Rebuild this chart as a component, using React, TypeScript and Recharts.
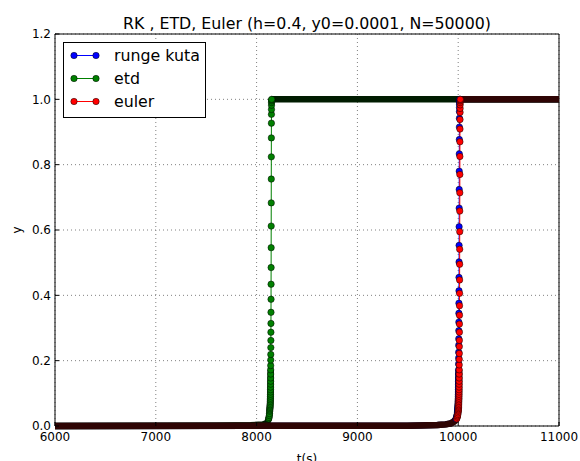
import React from 'react';
import { LineChart, Line, XAxis, YAxis, CartesianGrid, ReferenceArea } from 'recharts';

const xTicks = [6000, 7000, 8000, 9000, 10000, 11000];
const yTicks = [0, 0.2, 0.4, 0.6, 0.8, 1.0, 1.2];

const seriesNames = ['runge kuta', 'etd', 'euler'];
const seriesColors = ['#0000ff', '#008000', '#ff0000'];
const bandColors = ['#00002e', '#001c00', '#2e0404'];

// parts of each run where the markers overlap into a solid band (null = gap)
const rkBand: [number, number | null][] = [
  [6000, 0], [9490, 0.001], [9610, 0.0015], [9790, 0.003], [9872, 0.005], [9923, 0.008],
  [9954, 0.013], [9974, 0.02], [9984, 0.027], [9990, 0.035], [9994, 0.045], [9999.2, 0.07],
  [10002, 0.104], [10003.8, 0.172], [10003.9, null], [10009, 1], [11000, 1],
];
const etdBand: [number, number | null][] = [
  [6000, 0], [7600, 0.0005], [7790, 0.0012], [7940, 0.0025], [8060, 0.0045], [8095, 0.008],
  [8110, 0.014], [8120, 0.022], [8126, 0.032], [8130, 0.045], [8135.2, 0.07], [8138, 0.104],
  [8139.8, 0.172], [8139.9, null], [8145, 1], [11000, 1],
];
const eulerBand: [number, number | null][] = [
  [6000, 0], [9500, 0.001], [9620, 0.0015], [9800, 0.003], [9880, 0.005], [9930, 0.008],
  [9960, 0.013], [9980, 0.02], [9990, 0.027], [9996, 0.035], [10000, 0.045], [10005.2, 0.07],
  [10008, 0.104], [10009.8, 0.172], [10009.9, null], [10015, 1], [11000, 1],
];

// the steep rise, where single markers can be told apart
const rkRise: [number, number][] = [
  [9979, 0.022], [9984, 0.027], [9987, 0.031], [9990, 0.035], [9992, 0.04], [9994, 0.045],
  [9995, 0.049], [9996, 0.053], [9997, 0.057], [9997.8, 0.061], [9998.5, 0.065], [9999.2, 0.07],
  [9999.8, 0.075], [10000.3, 0.08], [10000.8, 0.085], [10001.2, 0.091], [10001.6, 0.097],
  [10002, 0.104], [10002.3, 0.111], [10002.6, 0.119], [10002.9, 0.128], [10003.2, 0.137],
  [10003.4, 0.147], [10003.6, 0.159], [10003.8, 0.172],
  [10004, 0.19], [10004.4, 0.208], [10004.8, 0.226], [10005.2, 0.247], [10005.6, 0.267],
  [10006, 0.292], [10006.4, 0.318], [10006.8, 0.345], [10007.2, 0.376], [10007.6, 0.414],
  [10008, 0.455], [10008.4, 0.502], [10008.8, 0.553], [10009.2, 0.61], [10009.6, 0.667],
  [10010, 0.724], [10010.4, 0.78], [10010.8, 0.833], [10011.2, 0.877], [10011.6, 0.915],
  [10012, 0.942], [10012.4, 0.963], [10012.8, 0.975], [10013.2, 0.985], [10013.6, 0.991],
  [10014, 0.996], [10014.4, 0.998], [10014.8, 1.0],
];
const etdRise: [number, number][] = [
  [8120, 0.022], [8123, 0.026], [8126, 0.032], [8128, 0.038], [8130, 0.045], [8131, 0.049],
  [8132, 0.053], [8133, 0.057], [8133.8, 0.061], [8134.5, 0.065], [8135.2, 0.07], [8135.8, 0.075],
  [8136.3, 0.08], [8136.8, 0.085], [8137.2, 0.091], [8137.6, 0.097], [8138, 0.104], [8138.3, 0.111],
  [8138.6, 0.119], [8138.9, 0.128], [8139.2, 0.137], [8139.4, 0.147], [8139.6, 0.159], [8139.8, 0.172],
  [8140, 0.185], [8140.4, 0.202], [8140.8, 0.219], [8141.2, 0.24], [8141.6, 0.262], [8142, 0.287],
  [8142.4, 0.314], [8142.8, 0.348], [8143.2, 0.388], [8143.6, 0.434], [8144, 0.485], [8144.4, 0.546],
  [8144.8, 0.612], [8145.2, 0.683], [8145.6, 0.756], [8146, 0.824], [8146.4, 0.882], [8146.8, 0.927],
  [8147.2, 0.954], [8147.6, 0.969], [8148, 0.982], [8148.4, 0.99], [8148.8, 0.995], [8149.2, 0.998],
  [8149.6, 1.0],
];
const eulerRise: [number, number][] = [
  [9985, 0.022], [9990, 0.027], [9993, 0.031], [9996, 0.035], [9998, 0.04], [10000, 0.045],
  [10001, 0.049], [10002, 0.053], [10003, 0.057], [10003.8, 0.061], [10004.5, 0.065], [10005.2, 0.07],
  [10005.8, 0.075], [10006.3, 0.08], [10006.8, 0.085], [10007.2, 0.091], [10007.6, 0.097],
  [10008, 0.104], [10008.3, 0.111], [10008.6, 0.119], [10008.9, 0.128], [10009.2, 0.137],
  [10009.4, 0.147], [10009.6, 0.159], [10009.8, 0.172],
  [10010, 0.187], [10010.4, 0.204], [10010.8, 0.222], [10011.2, 0.243], [10011.6, 0.262],
  [10012, 0.287], [10012.4, 0.312], [10012.8, 0.339], [10013.2, 0.368], [10013.6, 0.406],
  [10014, 0.447], [10014.4, 0.495], [10014.8, 0.541], [10015.2, 0.595], [10015.6, 0.658],
  [10016, 0.714], [10016.4, 0.77], [10016.8, 0.825], [10017.2, 0.87], [10017.6, 0.909],
  [10018, 0.938], [10018.4, 0.96], [10018.8, 0.972], [10019.2, 0.983], [10019.6, 0.99],
  [10020, 0.995], [10020.4, 0.998], [10020.8, 1.0],
];

const toPoints = (pairs: [number, number | null][]) => pairs.map(([t, y]) => ({ t, y }));

const bands = [rkBand, etdBand, eulerBand].map(toPoints);
const rises = [rkRise, etdRise, eulerRise].map(toPoints);

const font = 'DejaVu Sans, sans-serif';
const tickStyle = { fill: '#000', fontSize: 12, fontFamily: font };

const ChartLegend = () => (
  <div
    style={{
      position: 'absolute', left: 63, top: 42, width: 141, height: 73, border: '1px solid #000',
      background: '#fff', paddingTop: 1, boxSizing: 'content-box',
    }}
  >
    {seriesNames.map((name, i) => (
      <div key={name} style={{ display: 'flex', alignItems: 'center', height: 23 }}>
        <svg width={50} height={23} style={{ flex: 'none' }}>
          <line x1={10} y1={11.5} x2={32} y2={11.5} stroke={seriesColors[i]} strokeWidth={1} />
          <circle cx={10} cy={11.5} r={3.2} fill={seriesColors[i]} stroke="#000" strokeWidth={0.5} />
          <circle cx={32} cy={11.5} r={3.2} fill={seriesColors[i]} stroke="#000" strokeWidth={0.5} />
        </svg>
        <span style={{ fontFamily: font, fontSize: 15.8, lineHeight: '23px', color: '#000' }}>{name}</span>
      </div>
    ))}
  </div>
);

export default function App() {
  return (
    <div style={{ position: 'absolute', left: 0, top: 0, width: 580, height: 461, background: '#fff', overflow: 'hidden' }}>
      <div
        style={{
          position: 'absolute', left: 55, top: 14.5, width: 504, textAlign: 'center', fontFamily: font,
          fontSize: 15.8, lineHeight: '17px', color: '#000', whiteSpace: 'nowrap',
        }}
      >
        RK , ETD, Euler (h=0.4, y0=0.0001, N=50000)
      </div>
      <LineChart width={580} height={461} margin={{ top: 34, right: 21, left: 0, bottom: 0 }}>
        <CartesianGrid stroke="#808080" strokeDasharray="1 3" />
        <XAxis
          dataKey="t"
          type="number"
          domain={[6000, 11000]}
          ticks={xTicks}
          allowDataOverflow
          height={35}
          axisLine={false}
          tickLine={{ stroke: '#000' }}
          tickSize={-4}
          tickMargin={10}
          tick={tickStyle}
          label={({ viewBox }: any) => (
            <text x={viewBox.x + viewBox.width / 2} y={viewBox.y + 37} textAnchor="middle" fontSize={12} fontFamily={font} fill="#000">
              t(s)
            </text>
          )}
        />
        <XAxis xAxisId="top" orientation="top" type="number" domain={[6000, 11000]} ticks={xTicks} height={0}
          axisLine={false} tickLine={{ stroke: '#000' }} tickSize={-4} tick={false} />
        <YAxis
          type="number"
          domain={[0, 1.2]}
          ticks={yTicks}
          width={55}
          axisLine={false}
          tickLine={{ stroke: '#000' }}
          tickSize={-4}
          tickMargin={8}
          tick={tickStyle}
          tickFormatter={(v: number) => v.toFixed(1)}
          label={({ viewBox }: any) => {
            const cx = viewBox.x + 17;
            const cy = viewBox.y + viewBox.height / 2;
            return (
              <text x={cx} y={cy} transform={`rotate(-90 ${cx} ${cy})`} textAnchor="middle" dominantBaseline="central"
                fontSize={12} fontFamily={font} fill="#000">
                y
              </text>
            );
          }}
        />
        <YAxis yAxisId="right" orientation="right" type="number" domain={[0, 1.2]} ticks={yTicks} width={0}
          axisLine={false} tickLine={{ stroke: '#000' }} tickSize={-4} tick={false} />
        {seriesNames.flatMap((name, i) => [
          <Line
            key={name + '-band'}
            name={name + ' band'}
            data={bands[i]}
            dataKey="y"
            stroke={bandColors[i]}
            strokeWidth={6.5}
            dot={false}
            activeDot={false}
            isAnimationActive={false}
          />,
          <Line
            key={name}
            name={name}
            data={rises[i]}
            dataKey="y"
            stroke={seriesColors[i]}
            strokeWidth={1}
            dot={{ r: 3.2, fill: seriesColors[i], stroke: '#000', strokeWidth: 0.5 }}
            activeDot={false}
            isAnimationActive={false}
          />,
        ])}
        <ReferenceArea x1={6000} x2={11000} y1={0} y2={1.2} fill="none" stroke="#000" strokeWidth={1} />
      </LineChart>
      <ChartLegend />
    </div>
  );
}
